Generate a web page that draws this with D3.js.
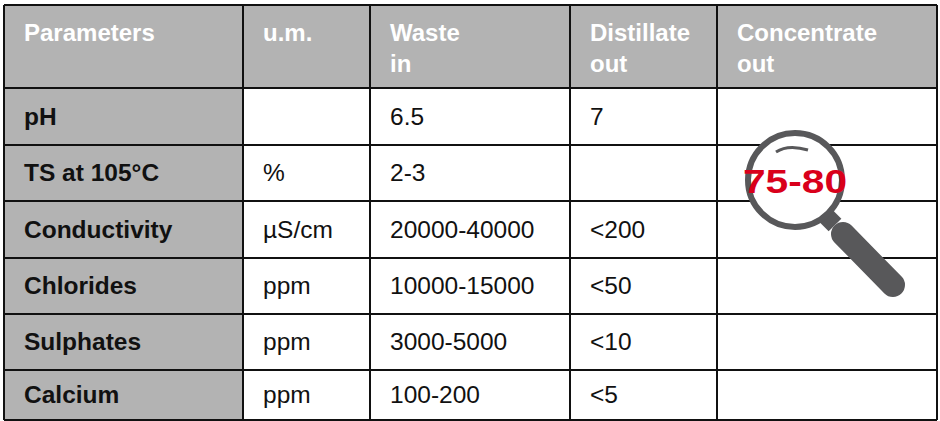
<!DOCTYPE html><html><head><meta charset="utf-8"><script src="https://d3js.org/d3.v7.min.js"></script>
<style>body{margin:0;background:#fff}</style></head><body><svg id="c" width="940" height="421"></svg>
<script>
const headers=[["Parameters"],["u.m."],["Waste","in"],["Distillate","out"],["Concentrate","out"]];
const params=["pH","TS at 105°C","Conductivity","Chlorides","Sulphates","Calcium"];
const units=["","%","µS/cm","ppm","ppm","ppm"];
const wasteIn=["6.5","2-3","20000-40000","10000-15000","3000-5000","100-200"];
const distOut=["7","","<200","<50","<10","<5"];
const concOut="75-80";
const colEdges=[4,243,370,570,717,937];
const rowEdges=[5,88,145,201,258,314,370,420];
const svg=d3.select("#c");
const font="Liberation Sans, Arial, sans-serif";
svg.append("rect").attr("x",4).attr("y",5).attr("width",933).attr("height",83).attr("fill","#b3b3b3");
svg.append("rect").attr("x",4).attr("y",88).attr("width",239).attr("height",332).attr("fill","#b3b3b3");
const g=svg.append("g").attr("stroke","#111").attr("stroke-width",2);
colEdges.forEach(x=>g.append("line").attr("x1",x).attr("x2",x).attr("y1",5).attr("y2",420));
rowEdges.forEach(y=>g.append("line").attr("x1",4).attr("x2",937).attr("y1",y).attr("y2",y));
headers.forEach((h,i)=>h.forEach((t,j)=>svg.append("text").attr("x",colEdges[i]+20).attr("y",41+j*31)
 .attr("font-family",font).attr("font-weight","bold").attr("font-size",24).attr("fill","#fff").text(t)));
const cols=[params,units,wasteIn,distOut];
cols.forEach((col,i)=>col.forEach((t,r)=>{
 const yc=(rowEdges[r+1]+rowEdges[r+2])/2;
 svg.append("text").attr("x",colEdges[i]+20).attr("y",yc+8).attr("font-family",font)
  .attr("font-weight",i==0?"bold":"normal").attr("font-size",24.5).attr("fill","#111").text(t);
}));
const mg=svg.append("g");
mg.append("line").attr("x1",824).attr("y1",214).attr("x2",835).attr("y2",225).attr("stroke","#58585a").attr("stroke-width",18);
mg.append("line").attr("x1",843).attr("y1",234).attr("x2",893).attr("y2",285).attr("stroke","#58585a").attr("stroke-width",24).attr("stroke-linecap","round");
mg.append("circle").attr("cx",795).attr("cy",180).attr("r",47).attr("fill","#fff").attr("stroke","#58585a").attr("stroke-width",6);
mg.append("path").attr("d","M776,152 Q788,144 808,150").attr("fill","none").attr("stroke","#58585a").attr("stroke-width",3);
svg.append("text").attr("x",743).attr("y",193).attr("textLength",104).attr("lengthAdjust","spacingAndGlyphs")
 .attr("font-family",font).attr("font-weight","bold").attr("font-size",34).attr("fill","#d9001b").text(concOut);
</script></body></html>
